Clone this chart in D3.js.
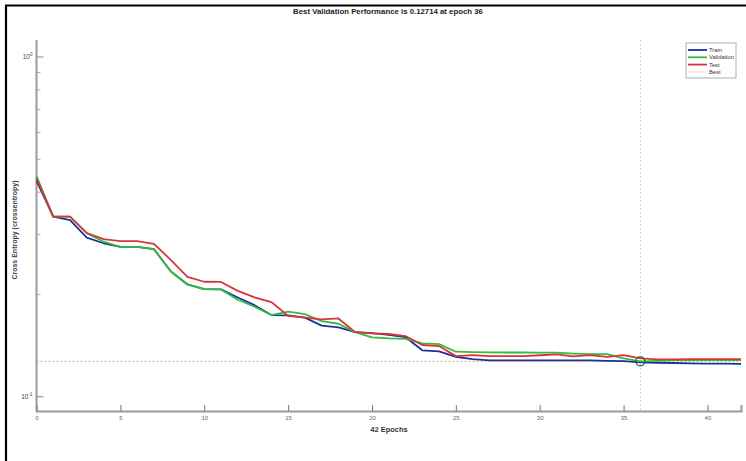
<!DOCTYPE html>
<html>
<head>
<meta charset="utf-8">
<script src="https://cdn.jsdelivr.net/npm/d3@7"></script>
<style>
  body { margin: 0; background: #fff; }
  text { font-family: "Liberation Sans", Arial, sans-serif; }
</style>
</head>
<body>
<div id="chart"></div>
<script>
// epochs 0..42
var epochs = d3.range(0, 43);

var train = [0.432, 0.339, 0.331, 0.294, 0.283, 0.276, 0.276, 0.272, 0.234, 0.214,
  0.2075, 0.207, 0.196, 0.186, 0.174, 0.1737, 0.171, 0.162, 0.160, 0.155,
  0.154, 0.152, 0.1497, 0.137, 0.136, 0.131, 0.129, 0.128, 0.128, 0.128,
  0.128, 0.128, 0.128, 0.128, 0.1276, 0.1273, 0.1262, 0.1259, 0.1257, 0.1254,
  0.1252, 0.1251, 0.1250];

var validation = [0.446, 0.339, 0.339, 0.303, 0.286, 0.276, 0.276, 0.272, 0.234, 0.214,
  0.2075, 0.207, 0.193, 0.184, 0.174, 0.178, 0.175, 0.167, 0.164, 0.155,
  0.1495, 0.1485, 0.1480, 0.1436, 0.1429, 0.1357, 0.1354, 0.1351, 0.1350, 0.1350,
  0.1349, 0.1348, 0.1340, 0.1335, 0.1335, 0.1297, 0.12714, 0.1276, 0.1282, 0.1282,
  0.1282, 0.1282, 0.1283];

var test = [0.440, 0.339, 0.339, 0.303, 0.291, 0.287, 0.287, 0.282, 0.253, 0.2255,
  0.218, 0.2177, 0.205, 0.196, 0.190, 0.173, 0.171, 0.169, 0.170, 0.155,
  0.1537, 0.153, 0.1509, 0.142, 0.141, 0.1317, 0.1326, 0.1317, 0.1317, 0.1317,
  0.1325, 0.1332, 0.1315, 0.1326, 0.1311, 0.1326, 0.1297, 0.1288, 0.1288, 0.1291,
  0.1291, 0.1291, 0.1291];

var bestEpoch = 36;
var bestPerf = 0.12714;

var xTicks = [0, 5, 10, 15, 20, 25, 30, 35, 40];
var yMajor = [0.1, 1];
var yMinor = [0.2, 0.3, 0.4, 0.5, 0.6, 0.7, 0.8, 0.9];

var seriesNames = ["Train", "Validation", "Test", "Best"];
var colors = { Train: "#1f2f9e", Validation: "#2fbf3a", Test: "#d9343c", Best: "#cfae7a" };

var width = 746, height = 461;

var svg = d3.select("#chart").append("svg")
    .attr("width", width)
    .attr("height", height);

// frame (top + left only)
svg.append("line").attr("x1", 5).attr("x2", width).attr("y1", 5.5).attr("y2", 5.5)
    .attr("stroke", "#000").attr("stroke-width", 2.2);
svg.append("line").attr("x1", 6).attr("x2", 6).attr("y1", 5).attr("y2", height)
    .attr("stroke", "#000").attr("stroke-width", 2.2);

var x = d3.scaleLinear()
    .domain([0, 42])
    .range([36.5, 741]);

var y = d3.scaleLog()
    .domain([0.0908, 1.122])
    .range([411, 40]);

var axisColor = "#9a9a9a";

// best lines
svg.append("line")
    .attr("x1", x(0)).attr("x2", x(42))
    .attr("y1", y(bestPerf)).attr("y2", y(bestPerf))
    .attr("stroke", colors.Best).attr("stroke-width", 1)
    .attr("stroke-dasharray", "2,2");

svg.append("line")
    .attr("x1", x(bestEpoch)).attr("x2", x(bestEpoch))
    .attr("y1", y.range()[1]).attr("y2", y.range()[0])
    .attr("stroke", "#d0d0d0").attr("stroke-width", 1)
    .attr("stroke-dasharray", "2,2");

// axes
var xAxis = d3.axisBottom(x)
    .tickValues(xTicks)
    .tickSize(-6)
    .tickPadding(5)
    .tickFormat(d3.format("d"));

var gx = svg.append("g")
    .attr("transform", "translate(0," + y.range()[0] + ")")
    .call(xAxis);
gx.select(".domain").attr("stroke", axisColor).attr("stroke-width", 2);
gx.selectAll(".tick line").attr("stroke", "#777");
gx.selectAll(".tick text").attr("fill", "#666").style("font-size", "6px");

var gy = svg.append("g").attr("transform", "translate(" + x(0) + ",0)");
gy.append("line")
    .attr("y1", y.range()[1]).attr("y2", y.range()[0])
    .attr("stroke", axisColor).attr("stroke-width", 2);
gy.selectAll(".minor").data(yMinor).enter().append("line")
    .attr("x1", 0).attr("x2", 4)
    .attr("y1", function(d) { return y(d); })
    .attr("y2", function(d) { return y(d); })
    .attr("stroke", "#aaa");
gy.selectAll(".major").data(yMajor).enter().append("line")
    .attr("x1", 0).attr("x2", 7)
    .attr("y1", function(d) { return y(d); })
    .attr("y2", function(d) { return y(d); })
    .attr("stroke", "#888");
var ylab = gy.selectAll(".ylab").data(yMajor).enter().append("text")
    .attr("x", -4)
    .attr("y", function(d) { return y(d) + 2; })
    .attr("text-anchor", "end")
    .attr("fill", "#444")
    .style("font-size", "6.5px");
ylab.append("tspan").text("10");
ylab.append("tspan")
    .attr("dy", -3)
    .style("font-size", "4.5px")
    .text(function(d) { return Math.round(Math.log10(d)); });

// series lines
var line = d3.line()
    .x(function(d, i) { return x(epochs[i]); })
    .y(function(d) { return y(d); });

[["Train", train], ["Validation", validation], ["Test", test]].forEach(function(s) {
    svg.append("path")
        .datum(s[1])
        .attr("fill", "none")
        .attr("stroke", colors[s[0]])
        .attr("stroke-width", 1.8)
        .attr("stroke-linejoin", "round")
        .attr("d", line);
});

// best circle
svg.append("circle")
    .attr("cx", x(bestEpoch))
    .attr("cy", y(bestPerf))
    .attr("r", 4.5)
    .attr("fill", "none")
    .attr("stroke", "#1d5a3a")
    .attr("stroke-width", 1.2);

// titles
svg.append("text")
    .attr("x", 388).attr("y", 14)
    .attr("text-anchor", "middle")
    .style("font-size", "7.8px").style("font-weight", "bold")
    .attr("fill", "#222")
    .text("Best Validation Performance is " + bestPerf + " at epoch " + bestEpoch);

svg.append("text")
    .attr("x", 389).attr("y", 432)
    .attr("text-anchor", "middle")
    .style("font-size", "7.5px").style("font-weight", "bold")
    .attr("fill", "#333")
    .text(epochs.length - 1 + " Epochs");

svg.append("text")
    .attr("transform", "translate(17,230) rotate(-90)")
    .attr("text-anchor", "middle")
    .style("font-size", "7px").style("font-weight", "bold")
    .attr("fill", "#444")
    .text("Cross Entropy  (crossentropy)");

// legend
var legend = svg.append("g").attr("transform", "translate(686,43)");
legend.append("rect")
    .attr("width", 50).attr("height", 35)
    .attr("fill", "#fff")
    .attr("stroke", "#999").attr("stroke-width", 0.8);
var items = legend.selectAll(".item").data(seriesNames).enter().append("g")
    .attr("transform", function(d, i) { return "translate(0," + (7 + i * 7.3) + ")"; });
items.append("line")
    .attr("x1", 2).attr("x2", 21)
    .attr("stroke", function(d) { return colors[d]; })
    .attr("stroke-width", function(d) { return d === "Best" ? 0.8 : 1.8; })
    .attr("stroke-dasharray", function(d) { return d === "Best" ? "1.5,1.5" : null; });
items.append("text")
    .attr("x", 23).attr("y", 2)
    .style("font-size", "5.8px")
    .attr("fill", "#333")
    .text(function(d) { return d; });
</script>
</body>
</html>
